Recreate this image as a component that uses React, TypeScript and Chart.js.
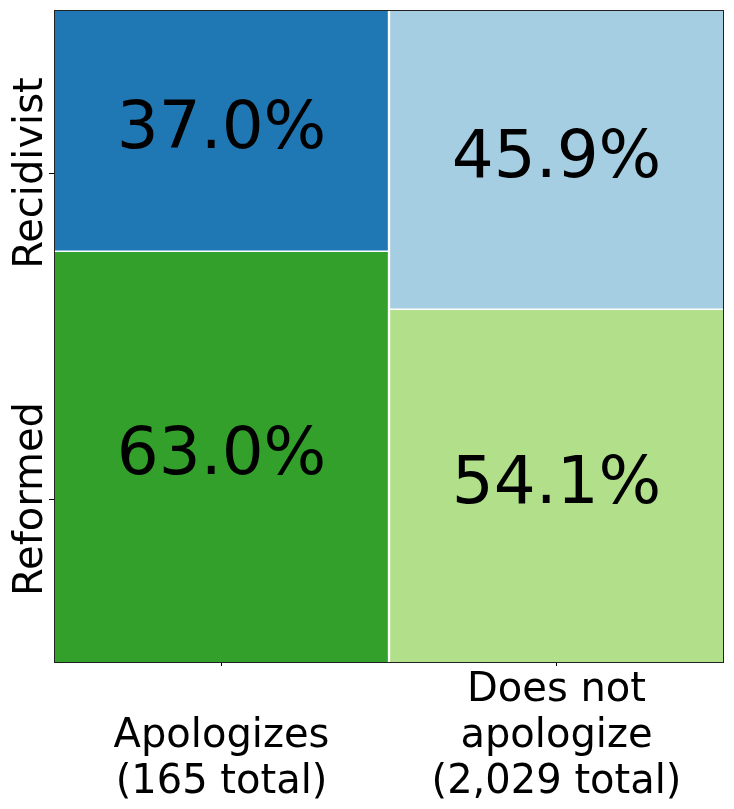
import React, { useEffect, useRef } from "react";
import { Chart, registerables } from "chart.js";

Chart.register(...registerables);

const categories: string[][] = [
  ["", "Apologizes", "(165 total)"],
  ["Does not", "apologize", "(2,029 total)"],
];
const rowNames = ["Recidivist", "Reformed"];
const recidivist = [37.0, 45.9];
const reformed = [63.0, 54.1];
const recidivistColors = ["#1f78b4", "#a6cee3"];
const reformedColors = ["#33a02c", "#b2df8a"];
const yTickValues = [75, 25];
const yTickLabels = ["Recidivist", "Reformed"];

const FONT = "'DejaVu Sans', sans-serif";

const overlayPlugin = {
  id: "mosaicOverlay",
  afterDatasetsDraw(chart: any) {
    const ctx = chart.ctx;
    const area = chart.chartArea;
    ctx.save();
    // cell labels
    ctx.fillStyle = "#000";
    ctx.font = `66px ${FONT}`;
    ctx.textAlign = "center";
    ctx.textBaseline = "middle";
    chart.data.datasets.forEach((ds: any, di: number) => {
      const meta = chart.getDatasetMeta(di);
      meta.data.forEach((el: any, i: number) => {
        const v = ds.data[i];
        const yc = (el.y + el.base) / 2;
        ctx.fillText(v.toFixed(1) + "%", el.x, yc);
      });
    });
    // frame
    ctx.strokeStyle = "#222";
    ctx.lineWidth = 1;
    ctx.strokeRect(area.left + 0.5, area.top + 0.5, area.right - area.left - 1, area.bottom - area.top);
    // y labels
    const yScale = chart.scales.y;
    ctx.font = `40px ${FONT}`;
    ctx.textBaseline = "alphabetic";
    yTickValues.forEach((v, i) => {
      const py = yScale.getPixelForValue(v);
      ctx.save();
      ctx.translate(34, py);
      ctx.rotate(-Math.PI / 2);
      ctx.fillText(yTickLabels[i], 0, 0);
      ctx.restore();
    });
    ctx.restore();
  },
};

export default function App() {
  const ref = useRef<HTMLCanvasElement | null>(null);
  useEffect(() => {
    if (!ref.current) return;
    const chart = new Chart(ref.current, {
      type: "bar",
      data: {
        labels: categories as any,
        datasets: [
          {
            label: rowNames[1],
            data: reformed,
            backgroundColor: reformedColors,
            borderColor: "#ffffff",
            borderSkipped: false,
            borderWidth: (c: any) => ({
              top: 1,
              bottom: 0,
              left: c.dataIndex === 1 ? 1.5 : 0,
              right: c.dataIndex === 0 ? 1.5 : 0,
            }),
          },
          {
            label: rowNames[0],
            data: recidivist,
            backgroundColor: recidivistColors,
            borderColor: "#ffffff",
            borderSkipped: false,
            borderWidth: (c: any) => ({
              top: 0,
              bottom: 1,
              left: c.dataIndex === 1 ? 1.5 : 0,
              right: c.dataIndex === 0 ? 1.5 : 0,
            }),
          },
        ] as any,
      },
      options: {
        animation: false,
        responsive: true,
        maintainAspectRatio: false,
        layout: { padding: { top: 2, right: 2, left: 0, bottom: 0 } },
        plugins: { legend: { display: false }, tooltip: { enabled: false } },
        datasets: { bar: { barPercentage: 1, categoryPercentage: 1 } } as any,
        scales: {
          x: {
            stacked: true,
            border: { display: false },
            grid: { drawOnChartArea: false, offset: false, tickLength: 4, color: "#000", tickColor: "#000" },
            ticks: {
              color: "#000",
              font: { family: FONT, size: 40, lineHeight: 1.15 },
              padding: 2,
              maxRotation: 0,
              minRotation: 0,
              autoSkip: false,
            },
            afterFit: (s: any) => {
              s.height = 139;
            },
          },
          y: {
            stacked: true,
            min: 0,
            max: 100,
            border: { display: false },
            grid: { drawOnChartArea: false, tickLength: 5, color: "#000", tickColor: "#000" },
            ticks: { display: false },
            afterBuildTicks: (s: any) => {
              s.ticks = yTickValues.map((v) => ({ value: v }));
            },
            afterFit: (s: any) => {
              s.width = 46;
            },
          },
        },
      },
      plugins: [overlayPlugin],
    } as any);
    return () => chart.destroy();
  }, []);
  return (
    <div style={{ width: 718, height: 793, position: "relative" }}>
      <canvas ref={ref} />
    </div>
  );
}
